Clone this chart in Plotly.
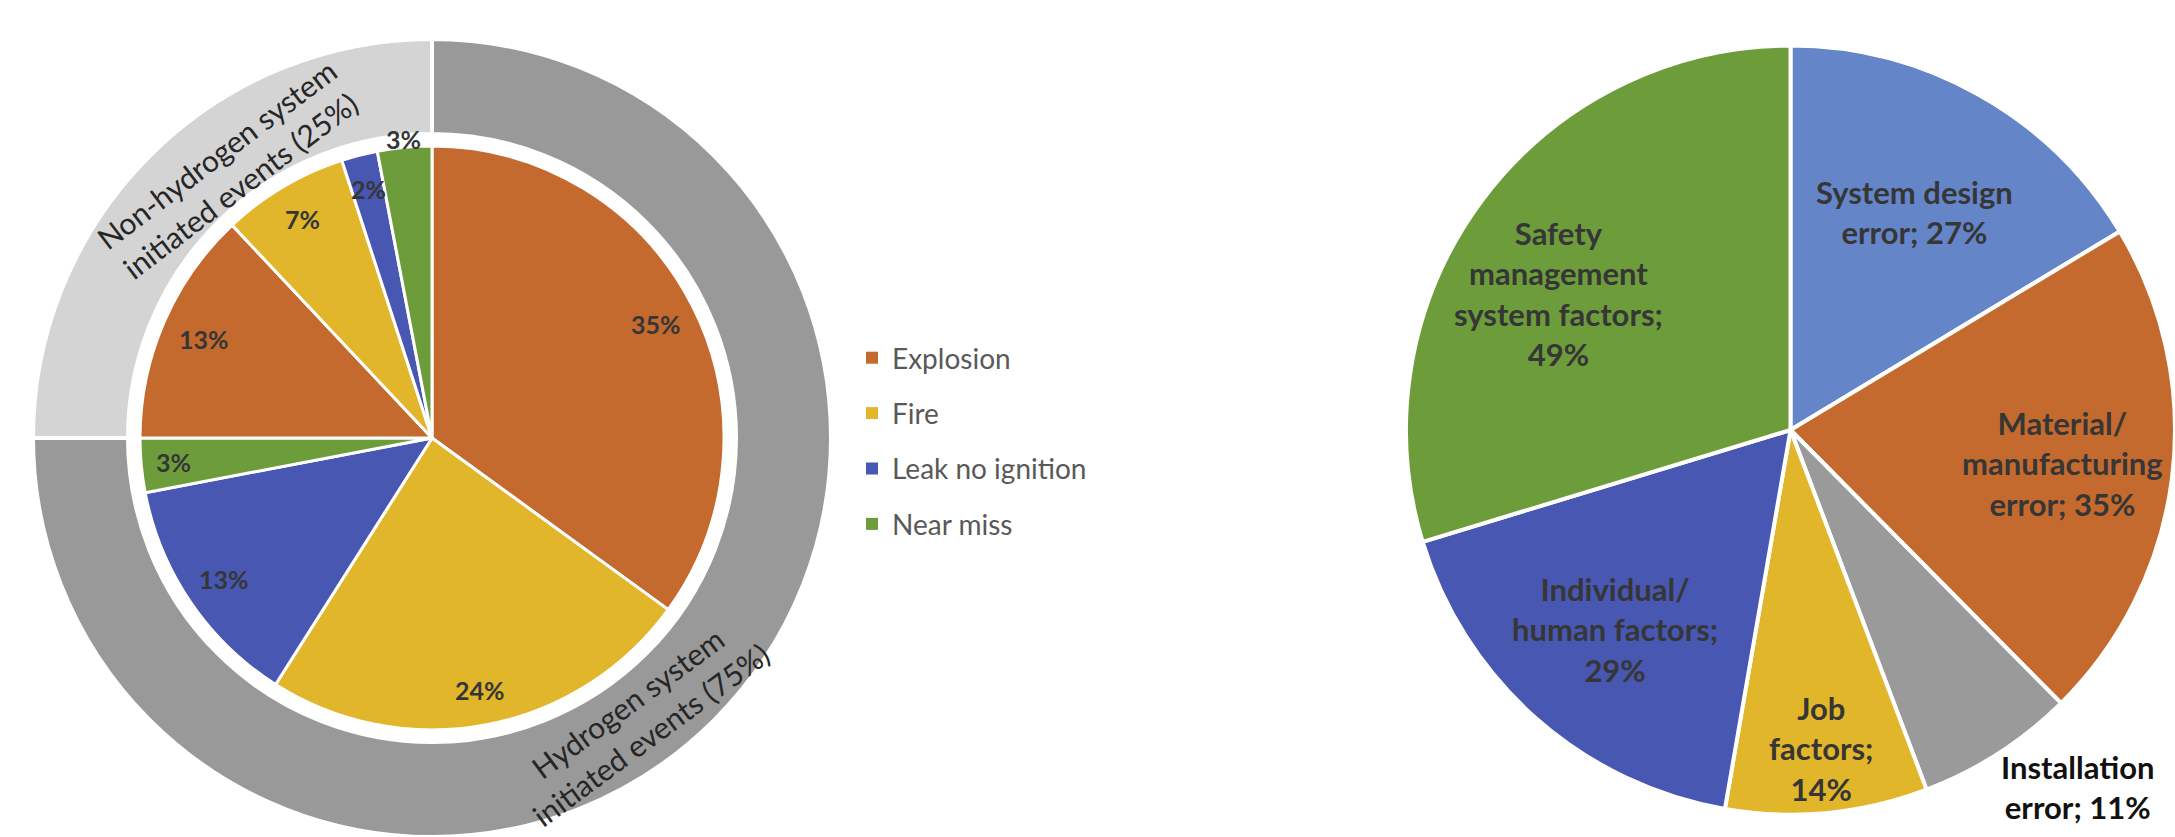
import math
import plotly.graph_objects as go

W, H = 2175, 837

# ---------------- data ----------------
# Left chart: inner pie (clockwise from 12 o'clock)
inner_causes = ["Explosion", "Fire", "Leak no ignition", "Near miss",
                "Explosion", "Fire", "Leak no ignition", "Near miss"]
inner_groups = ["Hydrogen"] * 4 + ["Non-hydrogen"] * 4
inner_values = [35, 24, 13, 3, 13, 7, 2, 3]

# Left chart: outer ring
ring_labels = ["Hydrogen system<br>initiated events (75%)",
               "Non-hydrogen system<br>initiated events (25%)"]
ring_values = [75, 25]

legend_labels = ["Explosion", "Fire", "Leak no ignition", "Near miss"]

# Right chart
right_names = ["System design error", "Material/manufacturing error",
               "Installation error", "Job factors",
               "Individual/human factors", "Safety management system factors"]
right_text = ["System design<br>error; 27%",
              "Material/<br>manufacturing<br>error; 35%",
              "Installation<br>error; 11%",
              "Job<br>factors;<br>14%",
              "Individual/<br>human factors;<br>29%",
              "Safety<br>management<br>system factors;<br>49%"]
right_values = [27, 35, 11, 14, 29, 49]

# ---------------- styles ----------------
cause_colors = {"Explosion": "#C46A2E", "Fire": "#E1B62A",
                "Leak no ignition": "#4857B1", "Near miss": "#6D9D3B"}
ring_colors = ["#999999", "#D4D4D4"]
right_colors = ["#6585C9", "#C46A2E", "#9A9A9A", "#E1B62A", "#4857B1", "#6D9D3B"]
FONT = "Lato, 'Open Sans', sans-serif"
TXT = "#363636"

# label placement per slice: radius (fraction of pie radius), angle shift (deg)
inner_label_r = [0.86, 0.88, 0.86, 0.89, 0.85, 0.87, 0.88, 1.03]
inner_label_dth = [0] * 8
right_label_r = [0.65, 0.71, 1.19, 0.83, 0.69, 0.70]
right_label_dth = [0, 0, -6, 0, 0, -6]
right_label_color = [TXT, TXT, "#111111", TXT, TXT, TXT]
ring_label_angle = [143.6, 322.8]   # degrees clockwise from 12 o'clock
ring_label_radius = [349, 337]      # px


def px_dom(a, b, total):
    return [max(0.0, a / total), min(1.0, b / total)]


def slice_label_positions(values, cx, cy_top, r, rfrac, dth):
    total = sum(values)
    cum = 0
    out = []
    for v, f, d in zip(values, rfrac, dth):
        th = math.radians((cum + v / 2) / total * 360 + d)
        out.append((cx + f * r * math.sin(th), cy_top - f * r * math.cos(th)))
        cum += v
    return out


fig = go.Figure()

# ---- Left chart geometry (pixels, from top-left) ----
cx, cy_top = 432, 438
cy = H - cy_top            # from bottom
r_out = min(403, cy)       # limited by bottom edge
r_ring_in = 304
r_in = 292

# Outer ring
fig.add_trace(go.Pie(
    labels=["Hydrogen system initiated events", "Non-hydrogen system initiated events"],
    values=ring_values, textinfo="none", hole=r_ring_in / r_out, sort=False,
    direction="clockwise", rotation=0, showlegend=False,
    marker=dict(colors=ring_colors, line=dict(color="white", width=4)),
    domain=dict(x=px_dom(cx - 403, cx + 403, W), y=px_dom(0, 2 * cy, H)),
    hoverinfo="label+value",
))

# Inner pie
fig.add_trace(go.Pie(
    labels=[f"{c} ({g})" for c, g in zip(inner_causes, inner_groups)],
    values=inner_values, textinfo="none", sort=False, direction="clockwise",
    rotation=0, showlegend=False,
    marker=dict(colors=[cause_colors[c] for c in inner_causes],
                line=dict(color="white", width=3)),
    domain=dict(x=px_dom(cx - r_in, cx + r_in, W),
                y=px_dom(cy - r_in, cy + r_in, H)),
))

# Right pie
rcx, rcy_top, rr = 1791, 430, 385
rcy = H - rcy_top
fig.add_trace(go.Pie(
    labels=right_names, values=right_values, textinfo="none",
    sort=False, direction="clockwise", rotation=0, showlegend=False,
    marker=dict(colors=right_colors, line=dict(color="white", width=4)),
    domain=dict(x=px_dom(rcx - rr, rcx + rr, W), y=px_dom(rcy - rr, rcy + rr, H)),
))

# Legend entries
for lab in legend_labels:
    fig.add_trace(go.Scatter(
        x=[None], y=[None], mode="markers", name=lab, legendgroup=lab,
        marker=dict(symbol="square", size=12, color=cause_colors[lab]),
    ))

annotations = []

# Ring labels, tangential along the ring
for lab, th, rad in zip(ring_labels, ring_label_angle, ring_label_radius):
    t = math.radians(th)
    x = cx + rad * math.sin(t)
    y = cy_top - rad * math.cos(t)
    rot = th - 180 if 90 < th < 270 else (th - 360 if th > 180 else th)
    annotations.append(dict(
        text=lab, x=x / W, y=1 - y / H, xref="paper", yref="paper",
        xanchor="center", yanchor="middle", textangle=rot, showarrow=False,
        font=dict(family=FONT, size=30, color="#262626"),
    ))

# Inner pie percentage labels
for v, (x, y) in zip(inner_values,
                     slice_label_positions(inner_values, cx, cy_top, r_in,
                                           inner_label_r, inner_label_dth)):
    annotations.append(dict(
        text=f"<b>{v}%</b>", x=x / W, y=1 - y / H, xref="paper", yref="paper",
        xanchor="center", yanchor="middle", showarrow=False,
        font=dict(family=FONT, size=25, color=TXT),
    ))

# Right pie labels
for t, col, (x, y) in zip(right_text, right_label_color,
                          slice_label_positions(right_values, rcx, rcy_top, rr,
                                                right_label_r, right_label_dth)):
    annotations.append(dict(
        text=f"<b>{t}</b>", x=x / W, y=1 - y / H, xref="paper", yref="paper",
        xanchor="center", yanchor="middle", showarrow=False,
        font=dict(family=FONT, size=31, color=col),
    ))

fig.update_layout(
    width=W, height=H, margin=dict(l=0, r=0, t=0, b=0),
    paper_bgcolor="white", plot_bgcolor="white",
    xaxis=dict(visible=False), yaxis=dict(visible=False),
    annotations=annotations,
    legend=dict(x=852 / W, y=1 - 333 / H, xanchor="left", yanchor="top",
                font=dict(family=FONT, size=28, color="#595959"),
                tracegroupgap=16, bgcolor="rgba(0,0,0,0)"),
    showlegend=True,
)

fig.write_html("out.html", config={"displayModeBar": False},
               post_script="document.body.style.margin='0px';")
